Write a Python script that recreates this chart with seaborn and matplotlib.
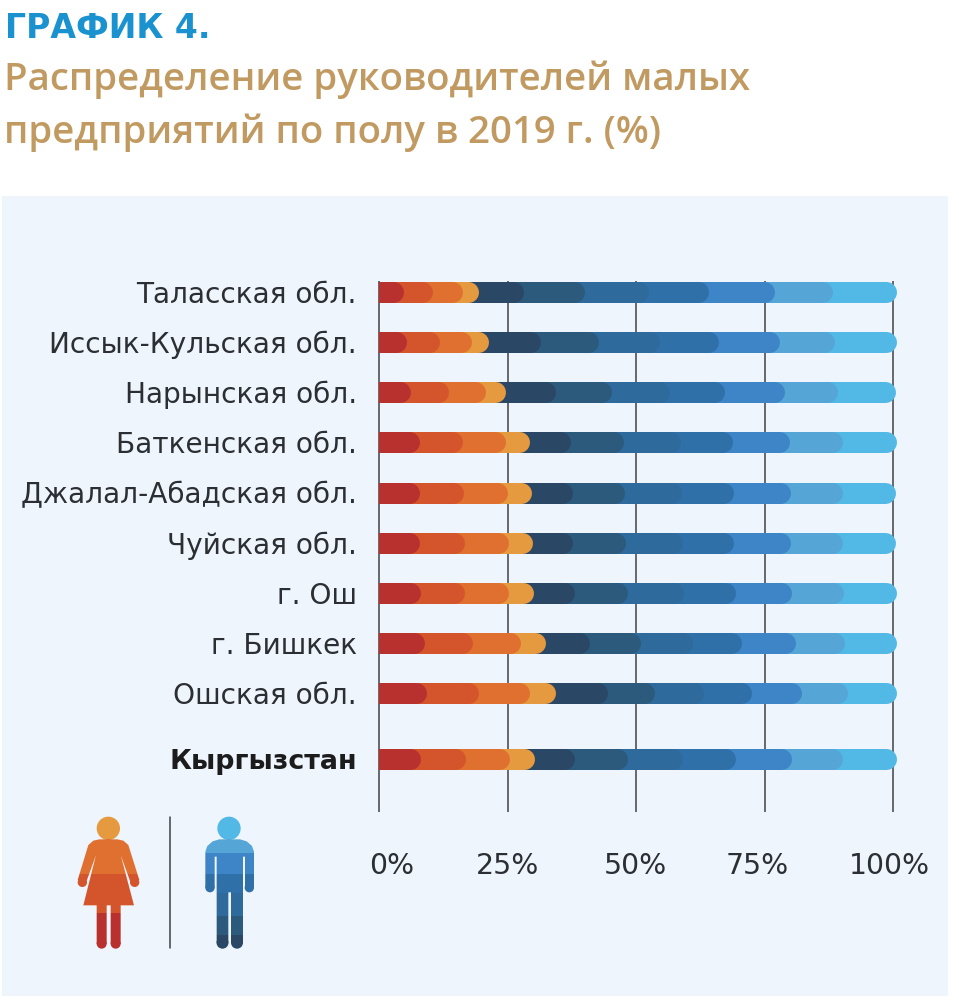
import numpy as np
import pandas as pd
import seaborn as sns
import matplotlib.pyplot as plt
from matplotlib.patches import Circle, Polygon, Rectangle

W, H = 959, 1000

regions = ["Таласская обл.", "Иссык-Кульская обл.", "Нарынская обл.", "Баткенская обл.",
           "Джалал-Абадская обл.", "Чуйская обл.", "г. Ош", "г. Бишкек", "Ошская обл.", "Кыргызстан"]
row_pos = [0, 1, 2, 3, 4, 5, 6, 7, 8, 9.31]

# one list per region, women bands first (4), then men bands (7)
talas = [4.1, 5.8, 5.7, 3.1, 8.9, 11.7, 12.5, 11.8, 12.7, 11.4, 12.3]
issyk_kul = [4.7, 6.4, 6.4, 3.3, 10.1, 11.3, 11.7, 11.5, 12.0, 10.7, 11.9]
naryn = [5.6, 7.4, 7.2, 3.9, 9.6, 10.9, 11.4, 10.7, 11.7, 10.3, 11.3]
batken = [7.2, 8.4, 8.5, 4.5, 8.0, 10.3, 11.1, 10.1, 11.1, 10.3, 10.5]
jalal_abad = [7.2, 8.6, 8.7, 4.5, 8.0, 10.1, 11.1, 10.1, 11.1, 10.1, 10.5]
chui = [7.2, 8.8, 8.7, 4.5, 7.8, 10.3, 11.1, 9.9, 11.1, 10.1, 10.5]
osh_city = [7.4, 8.7, 8.6, 4.7, 8.0, 10.3, 10.9, 10.1, 10.9, 10.1, 10.3]
bishkek = [8.2, 9.5, 9.3, 4.9, 8.4, 9.9, 10.3, 9.5, 10.4, 9.5, 10.1]
osh_obl = [8.6, 10.1, 9.9, 5.1, 10.1, 9.3, 9.5, 9.2, 9.9, 8.8, 9.5]
kyrgyzstan = [7.4, 8.9, 8.6, 4.7, 7.8, 10.3, 10.7, 10.3, 10.9, 9.9, 10.5]
all_rows = [talas, issyk_kul, naryn, batken, jalal_abad, chui, osh_city, bishkek, osh_obl, kyrgyzstan]

band_colors = ["#b9312f", "#d4552c", "#e0702f", "#e59a3f", "#2a4765", "#2b5a7c",
               "#2e6a9c", "#2f70a8", "#3d85c6", "#55a6d6", "#52b8e6"]

x_ticks = [0, 25, 50, 75, 100]
x_labels = ["0%", "25%", "50%", "75%", "100%"]
x_label_pos = [2.5, 25, 49.8, 73.5, 99.4]

# pixel layout of the plot area
X0, PX_PER_PCT = 379, 5.14
AX_R, AX_T, AX_B = 900, 281, 812
ROW_TOP, ROW_STEP = 291.7, 50.2
BAR_PX = 21
CAP_OVER = 3  # bars overshoot their value by a few pixels

sns.set_theme(style="white")
plt.rcParams["font.family"] = ["DejaVu Sans"]

fig = plt.figure(figsize=(W / 100, H / 100), dpi=100, facecolor="white")

# full-figure layer in pixel coordinates for panel, titles and icons
bg = fig.add_axes([0, 0, 1, 1], zorder=0)
bg.set_xlim(0, W)
bg.set_ylim(H, 0)
bg.axis("off")
bg.add_patch(Rectangle((2, 196), 946, 800, color="#eff5fc", lw=0))

bg.text(5, 28, "ГРАФИК 4.", color="#1a92cf", fontsize=23.9, fontweight="bold", va="center")
bg.text(4, 80, "Распределение руководителей малых", color="#c19a62", fontsize=27.6,
        family="Open Sans", fontweight="semibold", va="center")
bg.text(4, 133, "предприятий по полу в 2019 г. (%)", color="#c19a62", fontsize=27.6,
        family="Open Sans", fontweight="semibold", va="center")

ax = fig.add_axes([X0 / W, 1 - AX_B / H, (AX_R - X0) / W, (AX_B - AX_T) / H], zorder=1)
ax.patch.set_alpha(0)
ax.set_xlim(0, (AX_R - X0) / PX_PER_PCT)
ax.set_ylim((AX_B - ROW_TOP) / ROW_STEP, (AX_T - ROW_TOP) / ROW_STEP)

ax.vlines(x_ticks, *ax.get_ylim(), color="#3f4347", lw=1.1, zorder=1, clip_on=False)

lw_pt = BAR_PX * 72 / 100
cap_pct = (CAP_OVER - BAR_PX / 2) / PX_PER_PCT

# right-most band first, the ones on the left sit on top with their round ends
for region, pos, values in zip(regions, row_pos, all_rows):
    ends = np.cumsum(values)
    for band in range(len(values) - 1, -1, -1):
        seg = pd.DataFrame({"x": [0, ends[band] + cap_pct], "y": [pos, pos]})
        sns.lineplot(data=seg, x="x", y="y", ax=ax, color=band_colors[band], linewidth=lw_pt,
                     solid_capstyle="round", estimator=None, sort=False, zorder=3 + 0.1 * (10 - band))

sns.despine(ax=ax, left=True, bottom=True)
ax.set_xlabel("")
ax.set_ylabel("")
ax.set_xticks(x_label_pos, x_labels)
ax.set_yticks(row_pos, regions)
ax.tick_params(axis="x", length=0, pad=29, labelsize=20.4, labelcolor="#2b2e33")
ax.tick_params(axis="y", length=0, pad=16, labelsize=20.2, labelcolor="#2b2e33")
ax.get_yticklabels()[-1].set_fontweight("bold")
ax.get_yticklabels()[-1].set_fontsize(19.4)
ax.get_yticklabels()[-1].set_color("#1c1c1c")


def draw_icon(parts, bands, ox, oy):
    # parts are in 3x coordinates of the icon crop, each clipped band paints one colour
    for part in parts:
        bg.add_patch(part)
        part.set_facecolor("none")
        part.set_edgecolor("none")
        top = 0
        for bottom, color in bands:
            r = Rectangle((ox, oy + top / 3), 100, (bottom - top) / 3, color=color, lw=0)
            bg.add_patch(r)
            r.set_clip_path(part)
            top = bottom


def to_px(points, ox, oy):
    return [(ox + x / 3, oy + y / 3) for x, y in points]


OX, OY = 60, 800

woman_parts = [
    Circle((OX + 145 / 3, OY + 85 / 3), 35 / 3),
    Polygon(to_px([(100, 122), (118, 118), (172, 118), (190, 122), (205, 135), (238, 240), (212, 248),
                   (182, 165), (222, 316), (182, 316), (182, 432), (152, 432), (152, 316), (140, 316),
                   (140, 432), (110, 432), (110, 316), (70, 316), (108, 165), (78, 248), (53, 240),
                   (85, 135)], OX, OY)),
    Circle((OX + 67 / 3, OY + 247 / 3), 14 / 3),
    Circle((OX + 224 / 3, OY + 247 / 3), 14 / 3),
    Circle((OX + 125 / 3, OY + 431 / 3), 15 / 3),
    Circle((OX + 167 / 3, OY + 431 / 3), 15 / 3),
]
woman_bands = [(118, "#e59a3f"), (222, "#e0702f"), (340, "#d4552c"), (450, "#b9312f")]

man_parts = [
    Circle((OX + 507 / 3, OY + 85 / 3), 35 / 3),
    Polygon(to_px([(436, 263), (436, 155), (442, 138), (458, 124), (478, 118), (540, 118), (560, 124),
                   (576, 138), (582, 155), (582, 263), (555, 263), (555, 170), (549, 170), (549, 428),
                   (513, 428), (513, 277), (505, 277), (505, 428), (470, 428), (470, 170), (464, 170),
                   (464, 263)], OX, OY)),
    Circle((OX + 450 / 3, OY + 263 / 3), 14 / 3),
    Circle((OX + 568 / 3, OY + 263 / 3), 14 / 3),
    Circle((OX + 487.5 / 3, OY + 428 / 3), 18 / 3),
    Circle((OX + 531 / 3, OY + 428 / 3), 18 / 3),
]
man_bands = [(118, "#52b8e6"), (160, "#55a6d6"), (222, "#3d85c6"), (280, "#2f70a8"),
             (347, "#2e6a9c"), (405, "#2b5a7c"), (450, "#2a4765")]

draw_icon(woman_parts, woman_bands, OX, OY)
draw_icon(man_parts, man_bands, OX + 120, OY)
bg.plot([170, 170], [817, 948], color="#3f4347", lw=1.1)

fig.savefig("out.png", dpi=100, facecolor="white")
